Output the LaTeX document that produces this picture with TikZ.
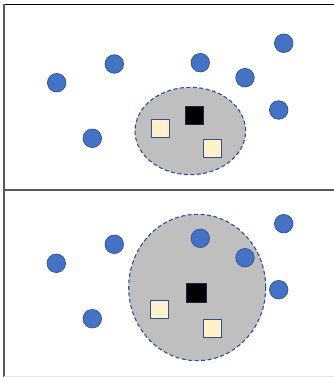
\documentclass[tikz,border=0pt]{standalone}
\usetikzlibrary{shapes.geometric}
\definecolor{dotblue}{HTML}{4472C4}
\definecolor{edgeblue}{HTML}{2F528F}
\definecolor{blobgray}{HTML}{BFBFBF}
\definecolor{cream}{HTML}{FFF2CC}
\tikzset{
  dot/.style={circle, fill=dotblue, draw=edgeblue, line width=0.7pt, minimum size=18.5pt, inner sep=0pt},
  blob/.style={ellipse, fill=blobgray, draw=edgeblue, dash pattern=on 4pt off 2.5pt, line width=1.1pt, inner sep=0pt},
  lightsq/.style={rectangle, fill=cream, draw=edgeblue, line width=1pt, minimum size=18pt, inner sep=0pt},
  darksq/.style={rectangle, fill=black, draw=edgeblue!50!black, line width=1pt, minimum size=18pt, inner sep=0pt},
  frame/.style={line width=1.4pt}
}
\begin{document}
\begin{tikzpicture}[x=1pt, y=-1pt]
  \useasboundingbox (0,0) rectangle (334,377);
  \fill[white] (0,0) rectangle (334,377);

  % panel frame
  \draw[frame, black] (3.3,4.5) -- (334,4.5);
  \draw[frame, black!65] (4,3.8) -- (4,377);
  \draw[frame, black!65] (4,190) -- (334,190);
  \draw[line width=1pt, black!10] (4,376.3) -- (334,376.3);

  % upper panel: small cluster
  \node[blob, minimum width=110.6pt, minimum height=87.4pt] (ua) at (190.3,131) {};
  \node[dot] (u1) at (56.7,82.7) {};
  \node[dot] (u2) at (114.3,64) {};
  \node[dot] (u3) at (200.3,62.7) {};
  \node[dot] (u4) at (283.7,43.3) {};
  \node[dot] (u5) at (245,77.7) {};
  \node[dot] (u6) at (278.7,110) {};
  \node[dot] (u7) at (92.3,138.3) {};
  \node[lightsq] (us1) at (160,128.7) {};
  \node[darksq] (uk) at (194.7,115.2) {};
  \node[lightsq] (us2) at (212.8,148) {};

  % lower panel: grown cluster
  \node[blob, minimum width=137pt, minimum height=146.4pt] (la) at (197.2,287.5) {};
  \node[dot] (l1) at (56.3,263.3) {};
  \node[dot] (l2) at (114.3,244.3) {};
  \node[dot] (l3) at (200.3,238.3) {};
  \node[dot] (l4) at (283.7,223.7) {};
  \node[dot] (l5) at (245,257.7) {};
  \node[dot] (l6) at (278.7,289.7) {};
  \node[dot] (l7) at (92.3,318.7) {};
  \node[lightsq] (ls1) at (159.7,309.7) {};
  \node[darksq, minimum size=19.5pt] (lk) at (196.5,292.8) {};
  \node[lightsq] (ls2) at (212.7,328.3) {};
\end{tikzpicture}
\end{document}
